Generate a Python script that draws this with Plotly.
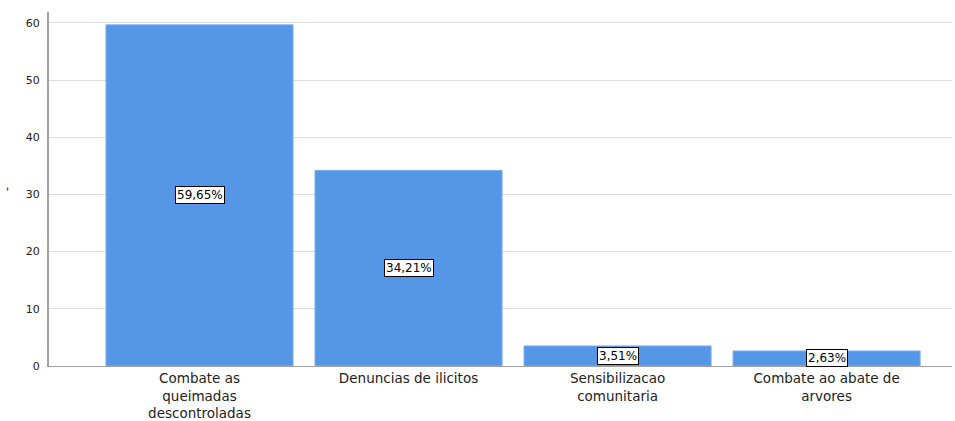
import plotly.graph_objects as go

categories = ["Combate as<br>queimadas<br>descontroladas", "Denuncias de ilicitos",
              "Sensibilizacao<br>comunitaria", "Combate ao abate de<br>arvores"]
values = [59.65, 34.21, 3.51, 2.63]
labels = ["59,65%", "34,21%", "3,51%", "2,63%"]

FONT = "DejaVu Sans, Liberation Sans, Arial"

fig = go.Figure()
fig.add_trace(go.Bar(
    x=list(range(len(categories))), y=values,
    marker=dict(color="#5596e6", line=dict(color="#7fb0ee", width=1)),
    width=0.895, hoverinfo="skip",
))
for i, (v, t) in enumerate(zip(values, labels)):
    fig.add_annotation(x=i, y=v / 2, text=t, showarrow=False,
                       font=dict(family=FONT, size=12, color="black"),
                       bgcolor="white", bordercolor="black", borderwidth=1, borderpad=1)

fig.update_layout(
    width=955, height=421,
    margin=dict(l=49, r=3, t=12, b=55),
    plot_bgcolor="white", paper_bgcolor="white",
    showlegend=False,
    font=dict(family=FONT, color="#222"),
    xaxis=dict(
        tickmode="array", tickvals=list(range(len(categories))), ticktext=categories,
        range=[-0.72, 3.6], showgrid=False, zeroline=False, automargin=False,
        showline=True, linecolor="#a0a0a0", linewidth=1,
        tickfont=dict(size=13.5, color="#222"), ticks="", ticklabelstandoff=0,
    ),
    yaxis=dict(
        range=[0, 61.9], dtick=10, showgrid=True, gridcolor="#dcdcdc", gridwidth=1,
        zeroline=False, showline=True, linecolor="#a0a0a0", linewidth=2, automargin=False,
        tickfont=dict(size=11, color="#222"), ticks="", ticklabelstandoff=5,
        title=dict(text="-", font=dict(size=12), standoff=28),
    ),
)
fig.write_html("out.html", config={"displayModeBar": False},
               post_script="document.body.style.margin='0';document.body.style.overflow='hidden';")
